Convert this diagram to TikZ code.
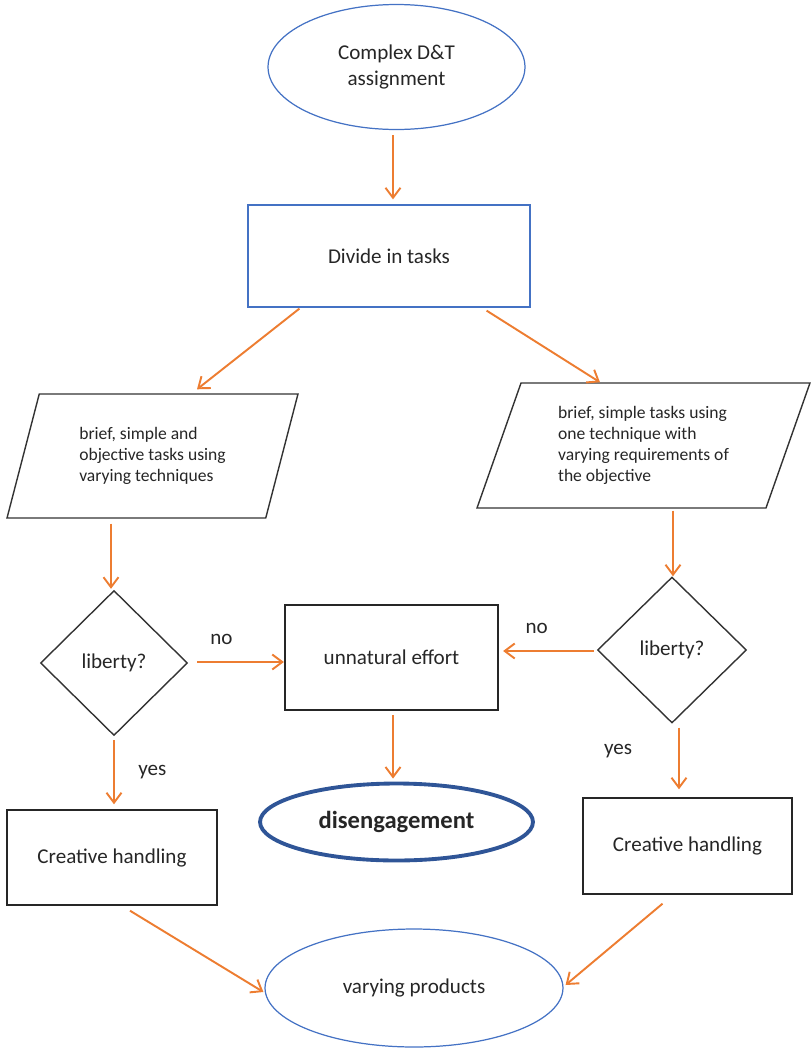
\documentclass[tikz,border=0pt]{standalone}
\usepackage{fontspec}
\setmainfont{Carlito}
\usetikzlibrary{shapes.geometric,arrows.meta,calc}
\definecolor{boxblue}{RGB}{68,114,196}
\definecolor{darkblue}{RGB}{47,85,151}
\definecolor{arrorange}{RGB}{237,125,49}
\definecolor{txtgray}{RGB}{38,38,38}

\begin{document}
\begin{tikzpicture}[x=0.02cm,y=-0.02cm,
    every node/.style={text=txtgray,font=\fontsize{12}{14.5}\selectfont},
    blueshape/.style={draw=boxblue,line width=0.7pt,align=center},
    slanted/.style={trapezium,trapezium stretches body,draw=black!80,line width=0.8pt,
      align=left,font=\fontsize{10}{12}\selectfont},
    question/.style={diamond,draw=black!80,line width=0.8pt,inner sep=0pt},
    plainbox/.style={rectangle,draw=black!85,line width=0.8pt},
    arr/.style={draw=arrorange,line width=1.1pt,-{Straight Barb[length=0.2cm,width=0.3cm]}}]
    \useasboundingbox (0,0) rectangle (811,1049);
    \node[ellipse,blueshape,minimum width=5.14cm,minimum height=2.5cm] (start) at (396.5,67) {Complex D\&T\\assignment};
    \node[rectangle,blueshape,minimum width=5.64cm,minimum height=2.04cm] (divide) at (389,256) {Divide in tasks};
    \node[slanted,trapezium left angle=65,trapezium right angle=115,minimum width=5.82cm,minimum height=2.48cm] (parL) at (152.5,456)
      {brief, simple and\\objective tasks using\\varying techniques};
    \node[slanted,trapezium left angle=64,trapezium right angle=116,minimum width=6.66cm,minimum height=2.5cm] (parR) at (643.5,445.5)
      {brief, simple tasks using\\one technique with\\varying requirements of\\the objective};
    \node[question,minimum width=2.94cm,minimum height=2.9cm] (libL) at (114,663) {liberty?};
    \node[question,minimum width=2.98cm,minimum height=2.92cm] (libR) at (672,650) {liberty?};
    \node[plainbox,line width=1.3pt,minimum width=4.26cm,minimum height=2.1cm] (effort) at (391.5,657.5) {unnatural effort};
    \node[ellipse,draw=darkblue,line width=2.2pt,minimum width=5.46cm,minimum height=1.54cm,
      font=\fontsize{14}{16}\selectfont\bfseries] (diseng) at (396.5,822) {disengagement};
    \node[plainbox,minimum width=4.2cm,minimum height=1.9cm] (creaL) at (112,857.5) {Creative handling};
    \node[plainbox,minimum width=4.18cm,minimum height=1.92cm] (creaR) at (687.5,846) {Creative handling};
    \node[ellipse,blueshape,minimum width=5.96cm,minimum height=2.36cm] (products) at (414,988) {varying products};
    % connectors
    \draw[arr] ($(start.south)+(-3.5,5)$) -- ($(start.south |- divide.north)+(-3.5,-5)$);
    \draw[arr] ($(divide.south west)+(52,1)$) -- ($(parL.center |- parL.north)+(44.5,-4)$);
    \draw[arr] ($(divide.south east)+(-44,3)$) -- ($(parR.center |- parR.north)+(-43.5,0)$);
    \draw[arr] ($(libL.north |- parL.south)+(-3,5)$) -- ($(libL.north)+(-3,-1)$);
    \draw[arr] ($(libR.north |- parR.south)+(1,2)$) -- ($(libR.north)+(1,0)$);
    \draw[arr] ($(libL.east)+(9,-1)$) -- node[pos=0.28,above=0.22cm] {no} ($(libL.east -| effort.west)+(0,-1)$);
    \draw[arr] ($(libR.west)+(-3,1)$) -- node[pos=0.63,above=0.22cm] {no} ($(libR.west -| effort.east)+(4,1)$);
    \draw[arr] ($(effort.south)+(1.5,4)$) -- ($(effort.south |- diseng.north)+(1.5,-3)$);
    \draw[arr] ($(libL.south)+(0,4)$) -- node[right=0.35cm] {yes} ($(libL.south |- creaL.north)+(0,-5)$);
    \draw[arr] ($(libR.south)+(7,4)$) -- node[pos=0.38,left=0.8cm] {yes} ($(libR.south |- creaR.north)+(7,-8)$);
    \draw[arr] ($(creaL.south)+(18,5)$) -- ($(products.west)+(-1,4)$);
    \draw[arr] ($(creaR.south)+(-25,9)$) -- ($(products.east)+(2,-3)$);
\end{tikzpicture}
\end{document}
